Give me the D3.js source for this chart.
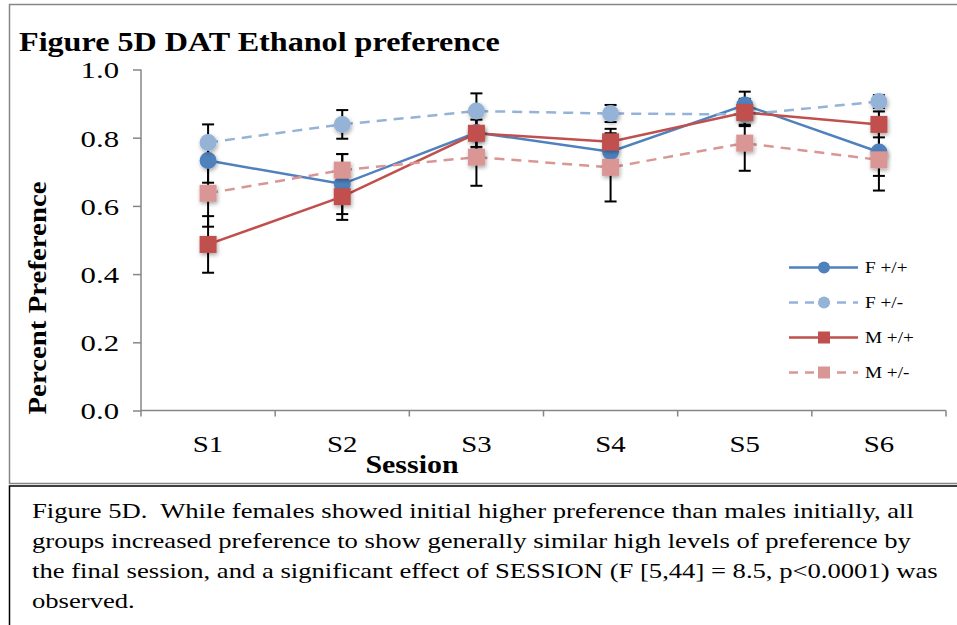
<!DOCTYPE html>
<html>
<head>
<meta charset="utf-8">
<script src="https://cdn.jsdelivr.net/npm/d3@7"></script>
<style>
  html, body { margin: 0; padding: 0; background: #fff; }
  svg { display: block; }
  text { font-family: "Liberation Serif", "Times New Roman", serif; fill: #000; }
</style>
</head>
<body>
<svg id="chart" width="957" height="625"></svg>
<script>
// Session labels along the x axis
const sessions = ["S1", "S2", "S3", "S4", "S5", "S6"];
const yTicks = [0.0, 0.2, 0.4, 0.6, 0.8, 1.0];

// Mean preference per session for each group
const fWild = [0.733, 0.664, 0.815, 0.759, 0.896, 0.758];   // F +/+
const fHet  = [0.786, 0.839, 0.878, 0.871, 0.868, 0.906];   // F +/-
const mWild = [0.487, 0.627, 0.813, 0.788, 0.874, 0.839];   // M +/+
const mHet  = [0.637, 0.705, 0.743, 0.713, 0.784, 0.735];   // M +/-

// Standard errors (symmetric error bars)
const fWildErr = [0.065, 0.088, 0.050, 0.050, 0.039, 0.070];
const fHetErr  = [0.053, 0.042, 0.052, 0.025, 0.030, 0.019];
const mWildErr = [0.083, 0.068, 0.040, 0.038, 0.040, 0.038];
const mHetErr  = [0.098, 0.047, 0.084, 0.100, 0.081, 0.090];

const groups = [
  { name: "F +/+", values: fWild, err: fWildErr, color: "#4F81BD", dash: null,   shape: "circle" },
  { name: "F +/-", values: fHet,  err: fHetErr,  color: "#95B3D7", dash: "10,7", shape: "circle" },
  { name: "M +/+", values: mWild, err: mWildErr, color: "#C0504D", dash: null,   shape: "square" },
  { name: "M +/-", values: mHet,  err: mHetErr,  color: "#D99694", dash: "10,7", shape: "square" }
];

const svg = d3.select("#chart");

// Widen text horizontally by a factor (the figure uses a wide Times face)
function widen(sel, k) {
  sel.each(function () {
    const w = this.getComputedTextLength();
    d3.select(this).attr("textLength", w * k).attr("lengthAdjust", "spacingAndGlyphs");
  });
}

// Soft shadow under the markers
const defs = svg.append("defs");
const f = defs.append("filter").attr("id", "shadow")
  .attr("x", "-50%").attr("y", "-50%").attr("width", "200%").attr("height", "200%");
f.append("feDropShadow").attr("dx", 1).attr("dy", 2).attr("stdDeviation", 2)
  .attr("flood-color", "#000").attr("flood-opacity", 0.35);

// Chart frame (grey) and caption box (black)
svg.append("rect").attr("x", 9.5).attr("y", 4.5).attr("width", 960).attr("height", 479)
  .attr("fill", "none").attr("stroke", "#868686").attr("stroke-width", 1.5);
svg.append("rect").attr("x", 9.5).attr("y", 486).attr("width", 960).attr("height", 160)
  .attr("fill", "none").attr("stroke", "#000").attr("stroke-width", 1.5);

const x = d3.scaleBand().domain(sessions).range([141, 946]).padding(0);
const y = d3.scaleLinear().domain([0, 1]).range([410.5, 69.5]);
const cx = s => x(s) + x.bandwidth() / 2;

// Y axis
const yAxis = svg.append("g").attr("transform", "translate(141,0)")
  .call(d3.axisLeft(y).tickValues(yTicks).tickFormat(d3.format(".1f")).tickSize(8).tickPadding(14));
yAxis.selectAll("path, line").attr("stroke", "#868686").attr("stroke-width", 1.5);
yAxis.select(".domain").attr("d", "M0,69.5V410.5");
yAxis.selectAll("text").attr("font-size", 24).attr("font-family", "Liberation Serif, serif")
  .attr("dy", "0.35em").call(widen, 1.28);

// X axis with ticks on category boundaries
const xg = svg.append("g").attr("transform", "translate(0,410.5)");
xg.append("line").attr("x1", 141).attr("x2", 946).attr("stroke", "#868686").attr("stroke-width", 1.5);
const bounds = sessions.map(s => x(s)).concat([x(sessions[sessions.length - 1]) + x.bandwidth()]);
xg.selectAll("line.tk").data(bounds).enter().append("line").attr("class", "tk")
  .attr("x1", d => d).attr("x2", d => d).attr("y1", 0).attr("y2", 6)
  .attr("stroke", "#868686").attr("stroke-width", 1.5);
xg.selectAll("text").data(sessions).enter().append("text")
  .attr("x", d => cx(d)).attr("y", 41).attr("text-anchor", "middle").attr("font-size", 24)
  .text(d => d).call(widen, 1.2);

// Axis titles
svg.append("text").attr("x", 412).attr("y", 473).attr("text-anchor", "middle")
  .attr("font-size", 26).attr("font-weight", "bold").text("Session").call(widen, 1.15);
svg.append("text").attr("transform", "translate(46,298) rotate(-90)").attr("text-anchor", "middle")
  .attr("font-size", 26).attr("font-weight", "bold").text("Percent Preference").call(widen, 1.11);

// Title
svg.append("text").attr("x", 19).attr("y", 51).attr("font-size", 27).attr("font-weight", "bold")
  .text("Figure 5D DAT Ethanol preference").call(widen, 1.19);

// Error bars
const eb = svg.append("g");
groups.forEach(g => {
  sessions.forEach((s, i) => {
    const top = y(g.values[i] + g.err[i]), bot = y(g.values[i] - g.err[i]), xc = cx(s);
    eb.append("line").attr("x1", xc).attr("x2", xc).attr("y1", top).attr("y2", bot)
      .attr("stroke", "#000").attr("stroke-width", 2);
    [top, bot].forEach(yy => eb.append("line").attr("x1", xc - 6).attr("x2", xc + 6)
      .attr("y1", yy).attr("y2", yy).attr("stroke", "#000").attr("stroke-width", 2));
  });
});

// Lines
const line = d3.line().x((d, i) => cx(sessions[i])).y(d => y(d));
groups.forEach(g => {
  svg.append("path").datum(g.values).attr("d", line).attr("fill", "none")
    .attr("stroke", g.color).attr("stroke-width", 2.5)
    .attr("stroke-dasharray", g.dash);
});

// Markers
function marker(sel, g, xc, yc, size) {
  if (g.shape === "circle") {
    return sel.append("circle").attr("cx", xc).attr("cy", yc).attr("r", size / 2).attr("fill", g.color);
  }
  return sel.append("rect").attr("x", xc - size / 2).attr("y", yc - size / 2)
    .attr("width", size).attr("height", size).attr("fill", g.color);
}
groups.forEach(g => {
  const mg = svg.append("g").attr("filter", "url(#shadow)");
  g.values.forEach((v, i) => marker(mg, g, cx(sessions[i]), y(v), 17));
});

// Legend
const lg = svg.append("g");
groups.forEach((g, i) => {
  const yy = 267.5 + i * 35;
  lg.append("line").attr("x1", 789).attr("x2", 858).attr("y1", yy).attr("y2", yy)
    .attr("stroke", g.color).attr("stroke-width", 2.5).attr("stroke-dasharray", g.dash ? "9,7" : null);
  marker(lg, g, 824, yy, 12);
  lg.append("text").attr("x", 865).attr("y", yy + 5).attr("font-size", 16).text(g.name).call(widen, 1.2);
});

// Caption
const caption = [
  "Figure 5D.  While females showed initial higher preference than males initially, all",
  "groups increased preference to show generally similar high levels of preference by",
  "the final session, and a significant effect of SESSION (F [5,44] = 8.5, p<0.0001) was",
  "observed."
];
svg.append("g").selectAll("text").data(caption).enter().append("text")
  .attr("x", 32).attr("y", (d, i) => 518 + i * 30).attr("font-size", 22)
  .attr("xml:space", "preserve").style("white-space", "pre").text(d => d).call(widen, 1.21);
</script>
</body>
</html>
